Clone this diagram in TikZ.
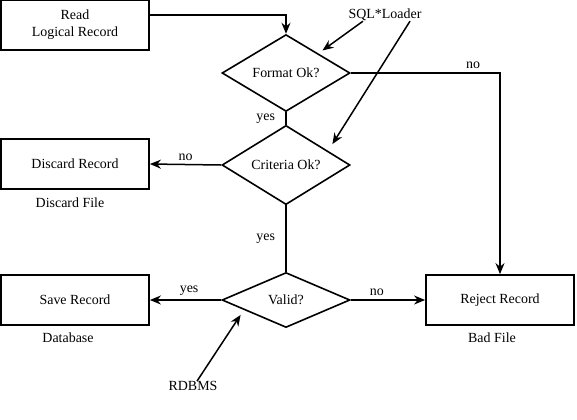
\documentclass[tikz,border=0pt]{standalone}
\usepackage{fontspec}
\setmainfont{Liberation Serif}
\usetikzlibrary{shapes.geometric, arrows.meta, calc, positioning}
\tikzset{
  box/.style={draw, line width=1.8bp, minimum width=148bp, minimum height=50bp, inner sep=0pt, align=center},
  test/.style={draw, diamond, line width=1.6bp, minimum width=128bp, minimum height=55bp, inner sep=0pt},
  flow/.style={line width=1.5bp, line join=miter, -{Stealth[length=11bp,width=9bp]}},
  plain/.style={line width=1.5bp},
  note/.style={inner sep=0pt}
}

\begin{document}
\begin{tikzpicture}[x=1bp, y=-1bp, font=\fontsize{14}{17}\selectfont]
  \useasboundingbox (0,0) rectangle (577,419);
  % process boxes
  \node[box] (read) at (75,25) {Read\\Logical Record};
  \node[box] (discard) at (75,164) {Discard Record};
  \node[box] (save) at (75,300) {Save Record};
  \node[box] (reject) at (500,300) {Reject Record};
  % decisions
  \node[test] (format) at (286,73) {Format Ok?};
  \node[test] (criteria) at (286,165) {Criteria Ok?};
  \node[test] (valid) at (286,300) {Valid?};
  % files and actors
  \node[note] (dfile) at (70,203) {Discard File};
  \node[note] (dbase) at (68,338) {Database};
  \node[note] (bfile) at (492,338) {Bad File};
  \node[note] (sql) at (385,15) {SQL*Loader};
  \node[note] (rdbms) at (193,386) {RDBMS};
  % flow
  \draw[flow] ([yshift=10bp]read.east) -| (format.north);
  \draw[flow] (format.east) -| node[above, pos=0.41] {no} (reject.north);
  \draw[plain] (format.south) -- node[left=7bp, pos=0.55] {yes} (criteria.north);
  \draw[flow] (criteria.west) -- node[above] {no} (discard.east);
  \draw[plain] (criteria.south) -- node[left=7bp] {yes} (valid.north);
  \draw[flow] (valid.west) -- node[above, pos=0.45] {yes} (save.east);
  \draw[flow] (valid.east) -- node[above, pos=0.35] {no} (reject.west);
  % who checks what
  \draw[flow, shorten >=5bp] ([xshift=-22bp]sql.south) -- ($(format.north)!0.5!(format.east)$);
  \draw[flow, shorten >=8bp] ([xshift=25bp]sql.south) -- ($(criteria.north)!0.65!(criteria.east)$);
  \draw[flow, shorten >=6bp] ([xshift=4bp]rdbms.north) -- ($(valid.west)!0.35!(valid.south)$);
\end{tikzpicture}
\end{document}
